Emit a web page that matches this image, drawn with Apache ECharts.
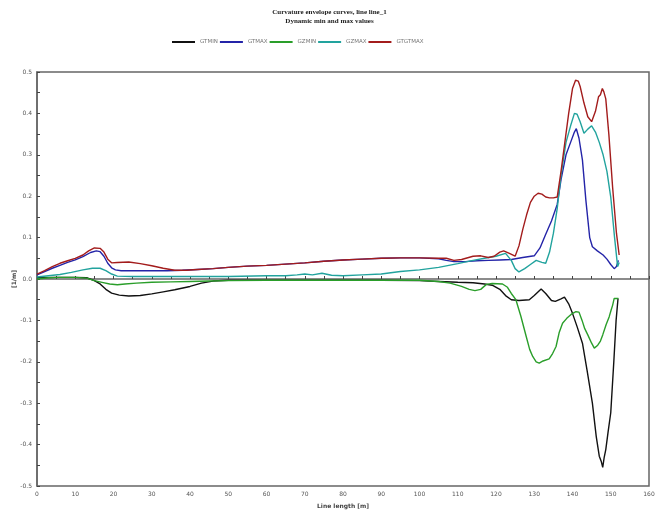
<!DOCTYPE html>
<html><head><meta charset="utf-8">
<script src="https://cdn.jsdelivr.net/npm/echarts@6/dist/echarts.min.js"></script>
<style>html,body{margin:0;padding:0;background:#fff}#c{width:659px;height:510px}</style>
</head><body><div id="c"></div>
<script>
const titleLines = ["Curvature envelope curves, line line_1", "Dynamic min and max values"];
const seriesNames = ["GTMIN", "GTMAX", "GZMIN", "GZMAX", "GTGTMAX"];
const seriesColors = ["#111111", "#2424a8", "#2a9e2a", "#22a39e", "#a31c1c"];
const xAxisName = "Line length [m]";
const yAxisName = "[1/m]";

const gtMin = [[0,0.003],[5,0.004],[10,0.004],[13,0.003],[15,-0.004],[16.5,-0.012],[18,-0.025],[19.5,-0.034],[21.5,-0.039],[24,-0.041],[27,-0.04],[30,-0.036],[33,-0.031],[36,-0.026],[40,-0.018],[43,-0.01],[46,-0.005],[50,-0.003],[60,-0.003],[70,-0.003],[80,-0.003],[90,-0.003],[100,-0.004],[105,-0.006],[110,-0.008],[114,-0.009],[117,-0.012],[119,-0.015],[121,-0.025],[122.5,-0.04],[124,-0.05],[126,-0.052],[128.7,-0.05],[130,-0.04],[131.8,-0.024],[133,-0.035],[134.5,-0.052],[135.5,-0.054],[137,-0.048],[137.9,-0.044],[139,-0.06],[140,-0.083],[141.2,-0.115],[142.6,-0.155],[143.8,-0.22],[145.2,-0.3],[146.2,-0.38],[147,-0.428],[147.5,-0.44],[147.9,-0.455],[148.3,-0.43],[148.7,-0.412],[149.3,-0.37],[150,-0.323],[150.8,-0.2],[151.4,-0.1],[151.9,-0.047]];

const gtMax = [[0,0.01],[2,0.018],[4,0.026],[6,0.033],[8,0.04],[10,0.046],[12,0.054],[14,0.064],[15.5,0.068],[16.5,0.066],[17.5,0.055],[18.5,0.038],[19.5,0.027],[20.5,0.022],[22,0.02],[26,0.02],[30,0.02],[34,0.02],[38,0.021],[42,0.023],[46,0.025],[50,0.028],[55,0.031],[60,0.033],[65,0.036],[70,0.039],[75,0.043],[80,0.046],[85,0.048],[90,0.05],[95,0.051],[100,0.051],[105,0.049],[107,0.045],[109,0.042],[112,0.042],[115,0.044],[118,0.045],[121,0.046],[124,0.047],[127,0.052],[130,0.056],[131.5,0.075],[133,0.108],[134.5,0.14],[136,0.18],[137,0.24],[138.3,0.3],[139.5,0.33],[140.5,0.355],[141,0.363],[141.7,0.34],[142.6,0.287],[143.5,0.19],[144.5,0.1],[145.2,0.078],[146.5,0.068],[148,0.058],[149,0.048],[150,0.035],[150.9,0.025],[151.5,0.03],[152,0.045]];

const gzMin = [[0,0.0],[3,0.003],[6,0.004],[10,0.004],[13,0.002],[15,-0.004],[17,-0.008],[19,-0.012],[21,-0.014],[23,-0.012],[26,-0.01],[30,-0.008],[35,-0.007],[40,-0.006],[45,-0.005],[50,-0.004],[60,-0.003],[70,-0.003],[80,-0.003],[90,-0.003],[100,-0.003],[105,-0.006],[108,-0.01],[111,-0.018],[113,-0.025],[114.5,-0.028],[116,-0.025],[117.5,-0.013],[119,-0.011],[121.7,-0.012],[123,-0.02],[124,-0.035],[125.2,-0.05],[126.5,-0.09],[127.9,-0.139],[128.8,-0.17],[129.6,-0.187],[130.5,-0.2],[131.3,-0.203],[132.3,-0.198],[133.9,-0.193],[134.8,-0.18],[135.7,-0.163],[136.5,-0.13],[137.4,-0.107],[138.5,-0.095],[139.7,-0.085],[140.9,-0.079],[141.7,-0.08],[142.5,-0.1],[143.2,-0.12],[144,-0.135],[145,-0.155],[145.7,-0.167],[146.1,-0.17],[146.6,-0.16],[147.3,-0.15],[147.9,-0.135],[148.8,-0.11],[149.6,-0.091],[150.1,-0.075],[150.5,-0.063],[150.9,-0.047],[152,-0.047]];

const gzMax = [[0,0.005],[3,0.008],[6,0.011],[9,0.016],[12,0.022],[14.5,0.026],[16.5,0.026],[18,0.02],[19.5,0.012],[21,0.007],[25,0.006],[30,0.006],[40,0.006],[50,0.006],[60,0.008],[65,0.008],[68,0.01],[70,0.012],[72,0.01],[74.5,0.014],[77,0.009],[80,0.008],[85,0.01],[90,0.012],[95,0.018],[100,0.022],[105,0.028],[110,0.037],[114,0.045],[117,0.05],[120,0.055],[122.5,0.062],[124,0.045],[125,0.025],[126,0.017],[127.5,0.025],[129,0.035],[130.5,0.045],[132,0.04],[133,0.038],[134,0.065],[135,0.11],[136,0.17],[137,0.25],[138.3,0.33],[139.5,0.37],[140.5,0.4],[141.2,0.398],[142,0.38],[143,0.352],[144,0.362],[145,0.37],[146,0.355],[147,0.33],[148,0.3],[149,0.26],[150,0.198],[151,0.1],[151.8,0.03],[152.2,0.04]];

const gtgtMax = [[0,0.012],[2,0.02],[4,0.03],[6,0.038],[8,0.044],[10,0.05],[12,0.058],[13.5,0.068],[15,0.075],[16.5,0.074],[17.5,0.065],[18.5,0.048],[19.5,0.039],[21,0.04],[24,0.041],[27,0.037],[30,0.032],[33,0.026],[36,0.021],[39,0.021],[42,0.023],[46,0.025],[50,0.028],[55,0.031],[60,0.033],[65,0.036],[70,0.039],[75,0.043],[80,0.046],[85,0.048],[90,0.05],[95,0.051],[100,0.051],[105,0.05],[107,0.05],[109,0.045],[111,0.047],[114,0.055],[116,0.056],[118,0.052],[119.5,0.055],[121,0.065],[122,0.068],[123.5,0.062],[125,0.055],[126,0.08],[127,0.12],[128,0.155],[129,0.185],[130,0.2],[131,0.207],[132,0.205],[133,0.198],[134,0.196],[135,0.196],[136,0.198],[137,0.26],[138,0.33],[139,0.4],[140,0.46],[140.8,0.48],[141.5,0.478],[142,0.465],[143,0.425],[144,0.392],[145,0.38],[146,0.405],[146.8,0.44],[147.3,0.445],[147.8,0.46],[148.2,0.452],[148.7,0.435],[149.5,0.35],[150.5,0.22],[151.5,0.11],[152.2,0.058]];

const seriesData = [gtMin, gtMax, gzMin, gzMax, gtgtMax];

const chart = echarts.init(document.getElementById('c'), null, {renderer: 'canvas'});
const axisFont = {fontFamily: 'DejaVu Sans', fontSize: 6, color: '#555'};
chart.setOption({
  backgroundColor: '#fff',
  animation: false,
  title: {
    text: titleLines.join('\n'),
    left: 'center', top: 3,
    textStyle: {fontFamily: 'Liberation Serif', fontSize: 7, fontWeight: 'bold', color: '#222', lineHeight: 9}
  },
  legend: {
    data: seriesNames,
    left: 167, top: 34,
    icon: 'rect', itemWidth: 23, itemHeight: 2, itemGap: 2,
    textStyle: {fontFamily: 'DejaVu Sans', fontSize: 5.5, color: '#777', width: 36}
  },
  grid: {left: 37, right: 10, top: 72, bottom: 24, outerBoundsMode: 'none', containLabel: false, show: true, borderColor: '#666', borderWidth: 1.5},
  xAxis: {
    type: 'value', min: 0, max: 160, interval: 10,
    name: xAxisName, nameLocation: 'middle', nameGap: 17,
    nameTextStyle: {fontFamily: 'DejaVu Sans', fontSize: 6, color: '#444', fontWeight: 'bold'},
    axisLine: {show: true, lineStyle: {color: '#666', width: 1.5}},
    axisTick: {show: true, inside: true, length: 3, lineStyle: {color: '#444'}},
    minorTick: {show: true, splitNumber: 2, length: 3, lineStyle: {color: '#444'}},
    splitLine: {show: false},
    axisLabel: Object.assign({margin: 5}, axisFont)
  },
  yAxis: {
    type: 'value', min: -0.5, max: 0.5, interval: 0.1,
    name: yAxisName, nameLocation: 'middle', nameGap: 20, nameRotate: 90, nameMoveOverlap: false,
    nameTextStyle: {fontFamily: 'DejaVu Sans', fontSize: 6, color: '#444', fontWeight: 'bold'},
    axisLine: {show: true, lineStyle: {color: '#666', width: 1.5}},
    axisTick: {show: true, inside: true, length: 3, lineStyle: {color: '#444'}},
    minorTick: {show: true, splitNumber: 2, length: 3, lineStyle: {color: '#444'}},
    splitLine: {show: false},
    axisLabel: Object.assign({margin: 5, formatter: v => v.toFixed(1)}, axisFont)
  },
  series: seriesNames.map((n, i) => ({
    name: n, type: 'line', data: seriesData[i], showSymbol: false, symbol: 'none',
    lineStyle: {color: seriesColors[i], width: 1.4}, itemStyle: {color: seriesColors[i]}
  }))
});
</script></body></html>
